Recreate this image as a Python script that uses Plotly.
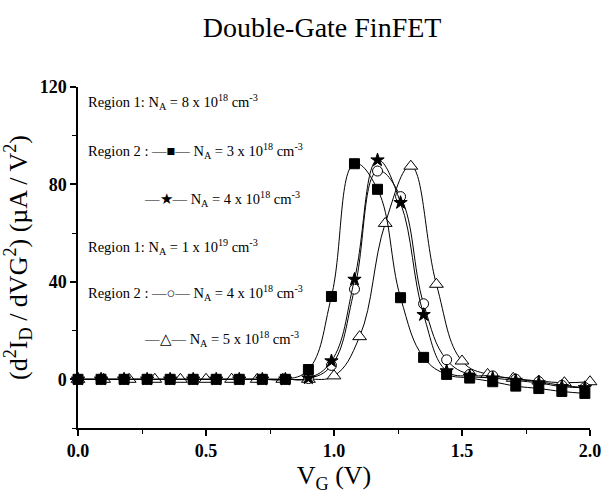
import plotly.graph_objects as go

# ---- data ----
x_sq = [0, 0.09, 0.18, 0.27, 0.36, 0.45, 0.54, 0.63, 0.72, 0.81, 0.9, 0.99, 1.08, 1.17, 1.26, 1.35, 1.44, 1.53, 1.62, 1.71, 1.8, 1.89, 1.98]
y_sq = [0, 0, 0, 0, 0, 0, 0, 0, 0, 0, 4, 34, 88.5, 78, 33.5, 9, 2, 0.5, -1, -2.8, -3.8, -5, -5.8]

x_st = [0, 0.09, 0.18, 0.27, 0.36, 0.45, 0.54, 0.63, 0.72, 0.81, 0.9, 0.99, 1.08, 1.17, 1.26, 1.35, 1.44, 1.53, 1.62, 1.71, 1.8, 1.89, 1.98]
y_st = [0, 0, 0, 0, 0, 0, 0, 0, 0, 0, 0.5, 7.5, 41, 90, 72.5, 26.5, 3.4, 1.2, 0.5, -0.5, -1.5, -3, -3.5]

x_ci = [0, 0.09, 0.18, 0.27, 0.36, 0.45, 0.54, 0.63, 0.72, 0.81, 0.9, 0.99, 1.08, 1.17, 1.26, 1.35, 1.44, 1.53, 1.62, 1.71, 1.8, 1.89, 1.98]
y_ci = [0, 0, 0, 0, 0, 0, 0, 0, 0, 0, 0.3, 5.7, 37, 85.5, 75, 31, 8, 2, 1.4, 0, -1, -2.5, -3.4]

x_tr = [0, 0.1, 0.2, 0.3, 0.4, 0.5, 0.6, 0.7, 0.8, 0.9, 1.0, 1.1, 1.2, 1.3, 1.4, 1.5, 1.6, 1.7, 1.8, 1.9, 2.0]
y_tr = [0, 0, 0, 0, 0, 0, 0, 0, 0, 0, 1.4, 17.5, 64, 87.5, 39, 7.5, 2, 0.4, -0.7, -1.4, -1]

legend_lines = [
    "Region 1: N<sub>A</sub> = 8 x 10<sup>18</sup> cm<sup>-3</sup>",
    "Region 2 : \u2014\u25a0\u2014 N<sub>A</sub> = 3 x 10<sup>18</sup> cm<sup>-3</sup>",
    "\u2014\u2605\u2014 N<sub>A</sub> = 4 x 10<sup>18</sup> cm<sup>-3</sup>",
    "Region 1: N<sub>A</sub> = 1 x 10<sup>19</sup> cm<sup>-3</sup>",
    "Region 2 : \u2014\u25cb\u2014 N<sub>A</sub> = 4 x 10<sup>18</sup> cm<sup>-3</sup>",
    "\u2014\u25b3\u2014 N<sub>A</sub> = 5 x 10<sup>18</sup> cm<sup>-3</sup>",
]

FONT = "Liberation Serif, Times New Roman, serif"

fig = go.Figure()

def add(x, y, symbol, fill):
    fig.add_trace(go.Scatter(
        x=x, y=y, mode="lines+markers",
        line=dict(color="black", width=1, shape="spline", smoothing=1.2),
        marker=dict(symbol=symbol, size=10 if symbol != "triangle-up" else 12,
                    color=fill, line=dict(color="black", width=1)),
        showlegend=False, cliponaxis=False))

add(x_tr, y_tr, "triangle-up", "white")
add(x_ci, y_ci, "circle", "white")
add(x_st, y_st, "star", "black")
add(x_sq, y_sq, "square", "black")

# legend as annotations (paper coords)
leg_pos = [(0.016, 0.955), (0.016, 0.812), (0.125, 0.672), (0.016, 0.531), (0.016, 0.395), (0.125, 0.262)]
for (px, py), txt in zip(leg_pos, legend_lines):
    fig.add_annotation(x=px, y=py, xref="paper", yref="paper", text=txt,
                       showarrow=False, xanchor="left", yanchor="middle",
                       font=dict(family=FONT, size=14.5, color="black"))

axis_common = dict(showline=True, linecolor="black", linewidth=1.5, ticks="outside",
                   tickcolor="black", tickwidth=1.5, ticklen=6, showgrid=False, zeroline=False,
                   automargin=False,
                   tickfont=dict(family=FONT, size=18, color="black", weight="bold"),
                   minor=dict(ticks="outside", ticklen=4, tickcolor="black", tickwidth=1.2))

fig.update_layout(
    width=602, height=494,
    margin=dict(l=78, r=12, t=87, b=66),
    paper_bgcolor="white", plot_bgcolor="white",
    title=dict(text="Double-Gate FinFET", x=0.535, xanchor="center", y=0.945, yanchor="middle",
               font=dict(family=FONT, size=28, color="black")),
    xaxis=dict(range=[0, 2.0], tickvals=[0, 0.5, 1.0, 1.5, 2.0],
               ticktext=["0.0", "0.5", "1.0", "1.5", "2.0"],
               title=dict(text="V<sub>G</sub> (V)", font=dict(family=FONT, size=26, color="black"), standoff=0),
               **axis_common),
    yaxis=dict(range=[-20, 120], tickvals=[0, 40, 80, 120],
               title=dict(text="(d<sup>2</sup>I<sub>D</sub> / dVG<sup>2</sup>) (\u00b5A / V<sup>2</sup>)",
                          font=dict(family=FONT, size=26, color="black"), standoff=6),
               **axis_common),
)
fig.update_xaxes(minor=dict(tickvals=[0.25, 0.75, 1.25, 1.75]))
fig.update_yaxes(minor=dict(tickvals=[-20, 20, 60, 100]))

fig.write_html("out.html", config={"displayModeBar": False},
               post_script="document.body.style.margin='0';document.body.style.padding='0';")
